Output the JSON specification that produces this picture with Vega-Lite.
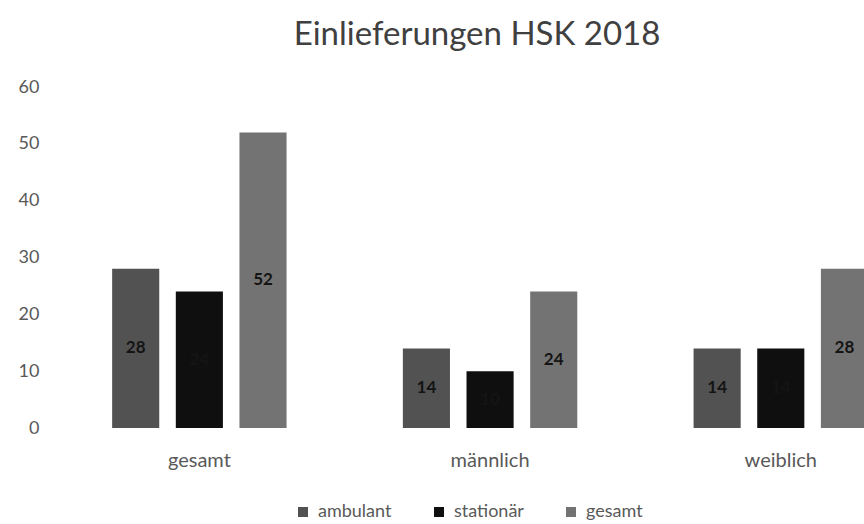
{
  "$schema": "https://vega.github.io/schema/vega-lite/v6.json",
  "width": 814,
  "height": 341,
  "padding": {"left": 18, "top": 19, "right": 0, "bottom": 2},
  "background": "white",
  "title": {
    "text": "Einlieferungen HSK 2018",
    "fontSize": 33,
    "font": "Lato",
    "fontWeight": "normal",
    "color": "#404040",
    "anchor": "middle",
    "offset": 26,
    "dx": 16
  },
  "config": {
    "view": {"stroke": null},
    "font": "Lato",
    "axis": {"grid": false, "domain": false, "ticks": false, "labelFont": "Lato", "labelColor": "#595959", "title": null}
  },
  "data": {
    "values": [
      {"group": "gesamt", "series": "ambulant", "value": 28},
      {"group": "gesamt", "series": "stationär", "value": 24},
      {"group": "gesamt", "series": "gesamt", "value": 52},
      {"group": "männlich", "series": "ambulant", "value": 14},
      {"group": "männlich", "series": "stationär", "value": 10},
      {"group": "männlich", "series": "gesamt", "value": 24},
      {"group": "weiblich", "series": "ambulant", "value": 14},
      {"group": "weiblich", "series": "stationär", "value": 14},
      {"group": "weiblich", "series": "gesamt", "value": 28}
    ]
  },
  "encoding": {
    "x": {
      "field": "group", "type": "nominal", "sort": ["gesamt", "männlich", "weiblich"],
      "scale": {"paddingInner": 0.4, "paddingOuter": 0.1, "align": 1},
      "axis": {"labelAngle": 0, "labelPadding": 22, "labelFontSize": 20}
    },
    "xOffset": {
      "field": "series", "type": "nominal", "sort": ["ambulant", "stationär", "gesamt"],
      "scale": {"paddingInner": 0.26}
    }
  },
  "layer": [
    {
      "mark": {"type": "bar"},
      "encoding": {
        "y": {
          "field": "value", "type": "quantitative",
          "scale": {"domain": [0, 60]},
          "axis": {"values": [0, 10, 20, 30, 40, 50, 60], "labelPadding": 15, "labelFontSize": 18}
        },
        "color": {
          "field": "series", "type": "nominal",
          "scale": {"domain": ["ambulant", "stationär", "gesamt"], "range": ["#525252", "#0f0f0f", "#737373"]},
          "legend": {
            "title": null, "orient": "none", "direction": "horizontal",
            "legendX": 240, "legendY": 416,
            "symbolType": "square", "symbolSize": 100, "symbolStrokeWidth": 0,
            "labelFont": "Lato", "labelFontSize": 18, "labelColor": "#595959",
            "columnPadding": 38, "labelOffset": 6
          }
        }
      }
    },
    {
      "mark": {"type": "text", "fontSize": 17, "fontWeight": "bold", "color": "#141414", "baseline": "middle"},
      "encoding": {
        "y": {
          "field": "value", "type": "quantitative",
          "scale": {"domain": [0, 120]},
          "axis": null
        },
        "text": {"field": "value", "type": "quantitative"}
      }
    }
  ],
  "resolve": {"scale": {"y": "independent"}}
}
